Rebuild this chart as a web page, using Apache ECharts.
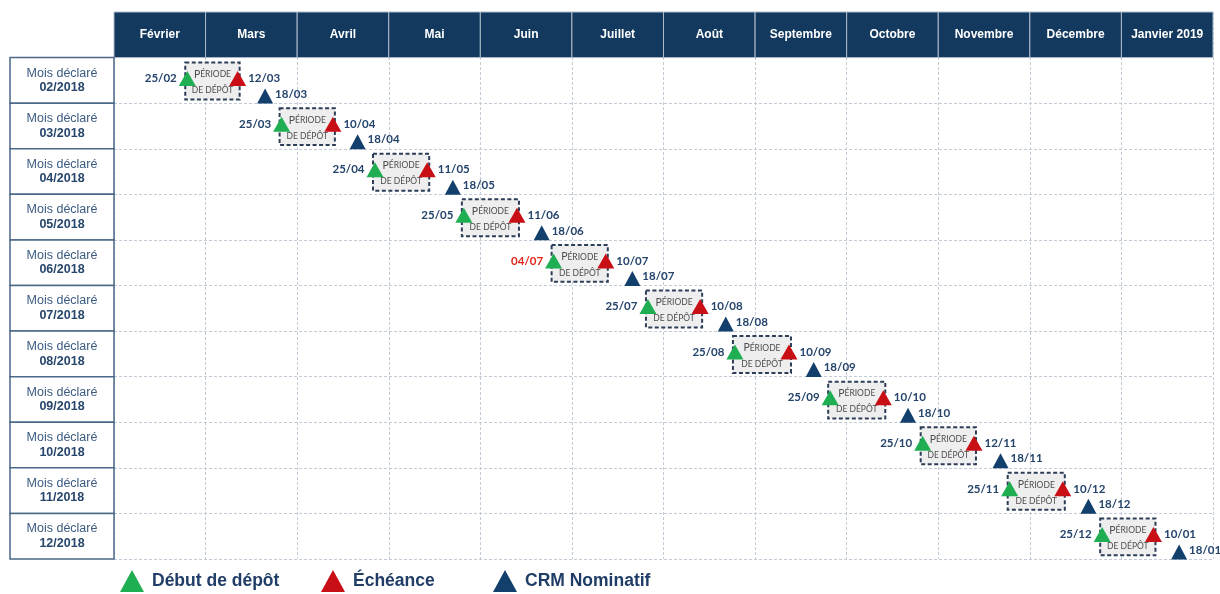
<!DOCTYPE html>
<html>
<head>
<meta charset="utf-8">
<script src="https://cdn.jsdelivr.net/npm/echarts@6/dist/echarts.min.js"></script>
<style>
html,body{margin:0;padding:0;background:#fff;}
#chart{width:1220px;height:594px;}
</style>
</head>
<body>
<div id="chart"></div>
<script>
// ---- Data ----
var months = ['Février','Mars','Avril','Mai','Juin','Juillet','Août','Septembre','Octobre','Novembre','Décembre','Janvier 2019'];
var rowLabels = ['02/2018','03/2018','04/2018','05/2018','06/2018','07/2018','08/2018','09/2018','10/2018','11/2018','12/2018'];
// positions on the month scale (0 = start of Février, 1 month per column)
var startPos = [0.80, 1.83, 2.85, 3.82, 4.80, 5.83, 6.78, 7.82, 8.83, 9.78, 10.79];
var startDates = ['25/02','25/03','25/04','25/05','04/07','25/07','25/08','25/09','25/10','25/11','25/12'];
var startLate = [false,false,false,false,true,false,false,false,false,false,false];
var duePos = [1.35, 2.39, 3.42, 4.40, 5.37, 6.40, 7.37, 8.40, 9.39, 10.36, 11.35];
var dueDates = ['12/03','10/04','11/05','11/06','10/07','10/08','10/09','10/10','12/11','10/12','10/01'];
var crmPos = [1.65, 2.66, 3.70, 4.67, 5.66, 6.68, 7.64, 8.67, 9.68, 10.64, 11.63];
var crmDates = ['18/03','18/04','18/05','18/06','18/07','18/08','18/09','18/10','18/11','18/12','18/01'];
var seriesNames = ['Début de dépôt','Échéance','CRM Nominatif'];

// ---- Styles ----
var NAVY = '#13395e';
var TXT = '#24446b';
var GREEN = '#1fae52';
var RED = '#c90f16';
var BLUE = '#123f6c';
var UP = 0.46, LOW = 0.845;
var labelFont = {fontFamily:'Lato', fontWeight:'bold', fontSize:11.5, color:TXT};
var legendText = {fontFamily:'Liberation Sans', fontWeight:'bold', fontSize:17.5, color:'#1f3d66', padding:[0,0,0,3]};

var chart = echarts.init(document.getElementById('chart'));

function mkData(pos, yOff, extra){
  return pos.map(function(x,i){
    var d = {value:[x, i + yOff]};
    if (extra) extra(d, i);
    return d;
  });
}

function mkLegend(name, left){
  return {data:[name], left:left, top:570, padding:0, itemWidth:24, itemHeight:22, itemGap:0, icon:'triangle',
          textStyle:legendText, selectedMode:false};
}

var option = {
  animation:false,
  backgroundColor:'#fff',
  grid:{left:114, right:7, top:12, bottom:35},
  xAxis:{type:'value', min:0, max:12, interval:1,
    axisLine:{show:false}, axisTick:{show:false}, axisLabel:{show:false},
    splitLine:{show:true, lineStyle:{color:'#c3cbd7', width:1, type:[3,2]}}},
  yAxis:{type:'value', min:-1, max:11, interval:1, inverse:true,
    axisLine:{show:false}, axisTick:{show:false}, axisLabel:{show:false},
    splitLine:{show:true, lineStyle:{color:'#c3cbd7', width:1, type:[3,2]}}},
  legend:[
    mkLegend(seriesNames[0], 120),
    mkLegend(seriesNames[1], 321),
    mkLegend(seriesNames[2], 493)
  ],
  series:[
    // header cells
    {type:'custom', z:5, silent:true, clip:false,
     data: months.map(function(m,i){return [i];}),
     renderItem:function(params, api){
       var i = params.dataIndex;
       var a = api.coord([i, -1]), b = api.coord([i+1, 0]);
       return {type:'group', children:[
         {type:'rect', shape:{x:a[0], y:a[1], width:b[0]-a[0], height:b[1]-a[1]},
          style:{fill:NAVY, stroke:'#aebbca', lineWidth:1}},
         {type:'text', x:(a[0]+b[0])/2, y:(a[1]+b[1])/2,
          style:{text:months[i], fill:'#ffffff', fontFamily:'Liberation Sans', fontWeight:'bold', fontSize:12,
                 align:'center', verticalAlign:'middle'}}
       ]};
     }},
    // row label cells
    {type:'custom', z:5, silent:true, clip:false,
     data: rowLabels.map(function(r,i){return [0, i];}),
     renderItem:function(params, api){
       var i = params.dataIndex;
       var a = api.coord([0, i]), b = api.coord([0, i+1]);
       var w = 104;
       return {type:'group', children:[
         {type:'rect', shape:{x:a[0]-w, y:a[1], width:w, height:b[1]-a[1]},
          style:{fill:'#ffffff', stroke:'#4b6889', lineWidth:1.5}},
         {type:'text', x:a[0]-w/2, y:(a[1]+b[1])/2,
          style:{text:'{a|Mois déclaré}\n{b|' + rowLabels[i] + '}', align:'center', verticalAlign:'middle',
                 rich:{a:{fontFamily:'Liberation Sans', fontSize:12.5, fill:'#3b5b80', lineHeight:14.5},
                       b:{fontFamily:'Liberation Sans', fontSize:12.5, fontWeight:'bold', fill:'#27466b', lineHeight:14.5}}}}
       ]};
     }},
    // filing period boxes
    {type:'custom', z:2, silent:true, clip:false,
     data: startPos.map(function(s,i){return [s, duePos[i], i];}),
     renderItem:function(params, api){
       var r = api.value(2);
       var s = api.coord([api.value(0), r + 0.11]);
       var e = api.coord([api.value(1), r + 0.92]);
       var x = s[0]-2, y = s[1], w = e[0]-s[0]+4, h = e[1]-s[1];
       return {type:'group', children:[
         {type:'rect', shape:{x:x, y:y, width:w, height:h},
          style:{fill:'#eeeeee', stroke:'#2c3e57', lineWidth:2, lineDash:[4,2.5]}},
         {type:'text', x:x+w/2, y:y+h/2+1.5,
          style:{text:'{p|P}{s|ÉRIODE}\n{s|DE DÉPÔT}', align:'center', verticalAlign:'middle',
                 rich:{p:{fontFamily:'Lato', fontSize:10.5, fill:'#4d4d4d', lineHeight:16},
                       s:{fontFamily:'Lato', fontSize:8.5, fill:'#4d4d4d', lineHeight:16}}}}
       ]};
     }},
    {name:seriesNames[0], type:'scatter', z:4, symbol:'triangle', symbolSize:[17,15],
     itemStyle:{color:GREEN, opacity:1},
     label:Object.assign({show:true, position:'left', distance:2,
       formatter:function(p){return startDates[p.dataIndex];}}, labelFont),
     data: mkData(startPos, UP, function(d,i){ if(startLate[i]) d.label = {color:'#e3241b'}; })},
    {name:seriesNames[1], type:'scatter', z:4, symbol:'triangle', symbolSize:[17,15],
     itemStyle:{color:RED, opacity:1},
     label:Object.assign({show:true, position:'right', distance:2,
       formatter:function(p){return dueDates[p.dataIndex];}}, labelFont),
     data: mkData(duePos, UP)},
    {name:seriesNames[2], type:'scatter', z:4, symbol:'triangle', symbolSize:[16,15],
     itemStyle:{color:BLUE, opacity:1},
     label:Object.assign({show:true, position:'right', distance:2, offset:[0,-2],
       formatter:function(p){return crmDates[p.dataIndex];}}, labelFont),
     data: mkData(crmPos, LOW)}
  ]
};
chart.setOption(option);
</script>
</body>
</html>
